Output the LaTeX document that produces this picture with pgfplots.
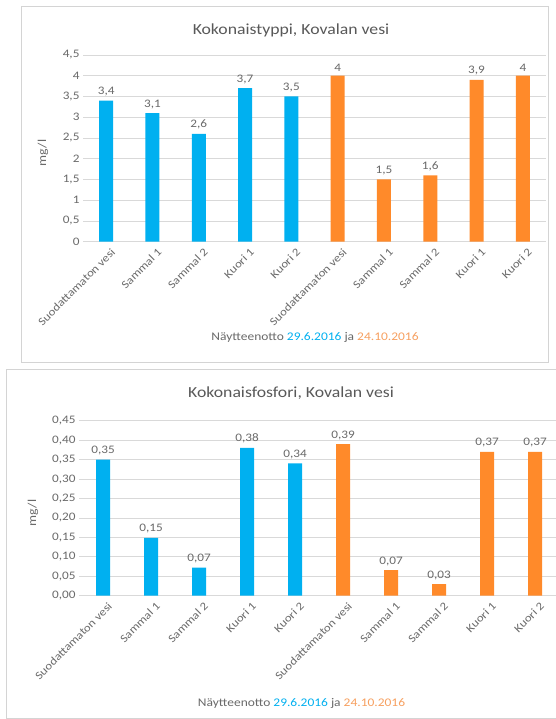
\documentclass[border=0pt]{standalone}
\usepackage{pgfplots}
\pgfplotsset{compat=1.18}
\usepackage{fontspec}
\setmainfont{Carlito}[FakeStretch=1.15]
\definecolor{cblue}{HTML}{00B0F0}
\definecolor{corange}{HTML}{FF8A2A}
\definecolor{corangetxt}{HTML}{F7A060}
\definecolor{txtgray}{HTML}{6A6A6A}
\definecolor{titlegray}{HTML}{595959}
\definecolor{gridgray}{HTML}{D9D9D9}
\definecolor{boxgray}{HTML}{D4D4D4}

\pgfplotsset{
  kchart/.style={
    scale only axis,
    anchor=south west,
    xmin=-0.5, xmax=9.5,
    ymin=0,
    xtick={0,...,9},
    xticklabels={Suodattamaton vesi, Sammal 1, Sammal 2, Kuori 1, Kuori 2, Suodattamaton vesi, Sammal 1, Sammal 2, Kuori 1, Kuori 2},
    xticklabel style={rotate=45, anchor=north east, font=\fontsize{11.2}{12}\selectfont, text=txtgray, inner sep=1pt, yshift=-6pt},
    yticklabel style={font=\fontsize{11.5}{13}\selectfont, text=txtgray},
    axis x line*=bottom, axis y line*=left,
    y axis line style={draw=none},
    x axis line style={draw=gridgray, line width=0.8pt},
    major tick length=0pt,
    ymajorgrids, grid style={draw=gridgray, line width=0.8pt},
    /pgf/number format/assume math mode=true,
    /pgf/number format/use comma,
    nodes near coords style={font=\fontsize{11.5}{13}\selectfont, text=txtgray, yshift=1pt},
    clip=false,
  }
}

\begin{document}
\begin{tikzpicture}
\useasboundingbox (0,0) rectangle (555pt,719pt);
\fill[white] (0,0) rectangle (555pt,719pt);
% chart boxes
\draw[boxgray, line width=0.8pt] (21pt,357pt) rectangle (548pt,713pt);
\draw[boxgray, line width=0.8pt] (6pt,1pt) rectangle (562pt,350pt);

% ---------- top chart ----------
\begin{axis}[kchart,
  at={(83pt,477.3pt)}, width=463pt, height=186.7pt,
  ymax=4.5,
  ytick={0,0.5,1,1.5,2,2.5,3,3.5,4,4.5},
  /pgf/number format/.cd, fixed, precision=1,
]
\addplot[ybar, bar width=14pt, fill=cblue, draw=none, nodes near coords]
  coordinates {(0,3.4) (1,3.1) (2,2.6) (3,3.7) (4,3.5)};
\addplot[ybar, bar width=14pt, fill=corange, draw=none, nodes near coords]
  coordinates {(5,4.0) (6,1.5) (7,1.6) (8,3.9) (9,4.0)};
\end{axis}
\node[font=\fontsize{15.4}{18}\selectfont, text=titlegray] at (291pt,689pt) {Kokonaistyppi, Kovalan vesi};
\node[rotate=90, font=\fontsize{12}{14}\selectfont, text=txtgray] at (43pt,566pt) {mg/l};
\node[font=\fontsize{11.7}{14}\selectfont, text=txtgray] at (315pt,382pt)
  {Näytteenotto \textcolor{cblue}{29.6.2016} ja \textcolor{corangetxt}{24.10.2016}};

% ---------- bottom chart ----------
\begin{axis}[kchart,
  at={(79pt,123.3pt)}, width=480pt, height=175pt,
  ymax=0.45,
  ytick={0,0.05,0.10,0.15,0.20,0.25,0.30,0.35,0.40,0.45},
  /pgf/number format/.cd, fixed, fixed zerofill, precision=2,
]
\addplot[ybar, bar width=14pt, fill=cblue, draw=none, nodes near coords]
  coordinates {(0,0.35) (1,0.149) (2,0.072) (3,0.38) (4,0.34)};
\addplot[ybar, bar width=14pt, fill=corange, draw=none, nodes near coords]
  coordinates {(5,0.39) (6,0.066) (7,0.03) (8,0.37) (9,0.37)};
\end{axis}
\node[font=\fontsize{15.4}{18}\selectfont, text=titlegray] at (291pt,326pt) {Kokonaisfosfori, Kovalan vesi};
\node[rotate=90, font=\fontsize{12}{14}\selectfont, text=txtgray] at (33pt,206pt) {mg/l};
\node[font=\fontsize{11.7}{14}\selectfont, text=txtgray] at (301.5pt,16pt)
  {Näytteenotto \textcolor{cblue}{29.6.2016} ja \textcolor{corangetxt}{24.10.2016}};
\end{tikzpicture}
\end{document}
